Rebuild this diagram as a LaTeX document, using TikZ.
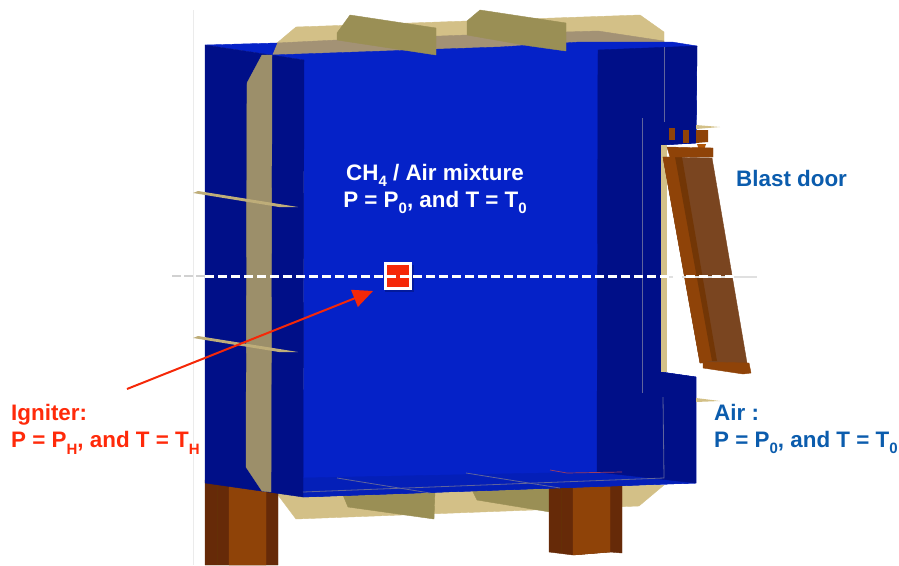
\documentclass[tikz,border=0pt]{standalone}
\usepackage{xcolor}
\usepackage{fontspec}
\setmainfont{Liberation Sans}
\usetikzlibrary{arrows.meta,positioning}
\definecolor{chamberdark}{HTML}{000F88}
\definecolor{chamberblue}{HTML}{0522C8}
\definecolor{chamberfloor}{HTML}{041FB8}
\definecolor{platetan}{HTML}{D3C087}
\definecolor{platetaupe}{HTML}{A39275}
\definecolor{stripolive}{HTML}{9C8F6A}
\definecolor{flapolive}{HTML}{9A8F55}
\definecolor{steelorange}{HTML}{8F4308}
\definecolor{steeldark}{HTML}{662A08}
\definecolor{doorbrown}{HTML}{7A4520}
\definecolor{igniterred}{HTML}{F52808}
\definecolor{labelred}{HTML}{FF2A0A}
\definecolor{labelblue}{HTML}{0B5CAD}
\definecolor{seamgray}{HTML}{5F649C}
\newcommand{\lowsub}[1]{\raisebox{-0.28em}{\fontsize{15}{15}\selectfont #1}}

\begin{document}
\begin{tikzpicture}[
    x=1pt,
    y=-1pt,
    solid/.style={fill=#1, draw=#1, line width=0.4pt},
    seam/.style={draw=seamgray, line width=0.8pt},
    labeltext/.style={anchor=west, align=left, inner sep=0pt, font=\fontsize{22.4}{27.5}\selectfont\bfseries},
    pointer/.style={-{Triangle[length=20pt,width=18pt]}, line width=2pt, draw=igniterred},
    igniterbox/.style={rectangle, draw=white, fill=igniterred, line width=3pt, minimum size=25pt, inner sep=0pt}
  ]
    \useasboundingbox (0,0) rectangle (899,565);
    \draw[black!8, line width=0.6pt] (193,10) -- (193,565);

    % 1. Back plates
    \filldraw[solid=platetan] (277,43) -- (296,27) -- (640,15) -- (664,32) -- (664,45) -- cycle;
    \filldraw[solid=platetaupe] (272,45) -- (277,43) -- (337,40) -- (467,35) -- (598,31) -- (664,41) -- (664,46) -- (272,58) -- cycle;
    \filldraw[solid=platetan] (278,490) -- (278,495) -- (296,519) -- (639,506) -- (664,485) -- cycle;
    \filldraw[solid=flapolive] (343,495) -- (348,507) -- (434,519) -- (435,490) -- cycle;
    \filldraw[solid=flapolive] (472,490) -- (477,500) -- (550,512) -- (550,488) -- cycle;

    % 2. Columns
    \filldraw[solid=steeldark] (205,480) -- (278,490) -- (278,565) -- (205,565) -- cycle;
    \filldraw[solid=steelorange] (229,480) -- (266,490) -- (266,565) -- (229,565) -- cycle;
    \draw[steelorange!70!black, line width=0.5pt] (217,483) -- (217,565);
    \filldraw[solid=steeldark] (549,485) -- (622,485) -- (622,553) -- (610,552) -- (573,555) -- (549,552) -- cycle;
    \filldraw[solid=steelorange] (573,485) -- (610,485) -- (610,552) -- (573,555) -- cycle;
    \draw[steelorange!70!black, line width=0.5pt] (561,487) -- (561,553);

    % 3. Chamber faces
    \filldraw[solid=chamberblue] (205,45) -- (277,43) -- (272,55) -- (500,47) -- (580,42) -- (672,42) -- (697,46) -- (696,143) -- (661,145) -- (661,372) -- (696,377) -- (696,483) -- (303,497) -- (304,60) -- cycle;
    \filldraw[solid=chamberfloor] (303,478) -- (597,472) -- (696,483) -- (303,497) -- cycle;
    \filldraw[solid=chamberdark] (205,45) -- (304,60) -- (303,497) -- (205,483) -- cycle;
    \filldraw[solid=chamberdark] (598,50) -- (697,46) -- (696,143) -- (661,145) -- (661,372) -- (696,377) -- (696,483) -- (597,472) -- cycle;

    % 4. Blast door
    \fill[platetan] (661,145) rectangle (667,372);
    \fill[platetan] (696,125) -- (720,127) -- (696,129) -- cycle;
    \fill[steelorange] (696,130) -- (708,130) -- (708,142) -- (696,143) -- cycle;
    \fill[steelorange!70!orange] (697,144) -- (706,144) -- (704,150) -- (699,150) -- cycle;
    \filldraw[solid=doorbrown] (663,157) -- (712,158) -- (747,363) -- (700,363) -- cycle;
    \filldraw[solid=steelorange] (663,157) -- (677,157) -- (713,360) -- (700,363) -- cycle;
    \fill[steelorange!80!black] (675,157) -- (682,157) -- (717,361) -- (712,361) -- cycle;
    \filldraw[solid=steelorange] (667,147) -- (713,148) -- (713,157) -- (670,157) -- cycle;
    \filldraw[solid=steelorange] (703,362) -- (749,363) -- (751,373) -- (743,374) -- (703,368) -- cycle;
    \fill[steelorange] (669,128) rectangle (675,140);
    \fill[steelorange] (683,130) rectangle (689,143);

    % 5. Strip and flaps in front
    \filldraw[solid=stripolive] (262,55) -- (272,55) -- (271,492) -- (262,491) -- (246,467) -- (247,83) -- cycle;
    \filldraw[solid=flapolive] (337,33) -- (350,15) -- (436,28) -- (436,55) -- (403,50) -- (337,40) -- cycle;
    \filldraw[solid=flapolive] (467,21) -- (480,10) -- (566,23) -- (566,51) -- (530,46) -- (467,35) -- cycle;
    \foreach \y in {0,145} {
      \fill[platetan!90!black] (193,193+\y) -- (198,191+\y) -- (298,207+\y) -- (279,207+\y) -- cycle;
    }
    \fill[platetan] (696,398) -- (720,401) -- (696,402) -- cycle;

    % 6. Seams
    \draw[seam] (664,47) -- (664,122);
    \draw[seam] (642,118) -- (642,393);
    \draw[seam] (663,397) -- (664,478) -- (303,492);
    \draw[seam] (337,478) -- (430,493);
    \draw[seam] (466,473) -- (560,488);
    \draw[seamgray!60!red, line width=0.7pt] (550,470) -- (567,473) -- (622,472);

    % 7. Centre line and igniter
    \draw[black!18, line width=2.5pt, dash pattern=on 9pt off 3pt] (172,276) -- (205,276);
    \draw[black!12, line width=2.5pt] (667,277) -- (757,277);
    \fill[black, opacity=0.22] (385,265) rectangle (414,292);
    \node[igniterbox] (igniter) at (398,275.5) {};
    \draw[white, line width=3pt, dash pattern=on 9pt off 4pt] (205,276) -- (735,276);

    \coordinate (pointertail) at (127,389);
    \coordinate (pointertip) at (373,291);
    \draw[pointer] (pointertail) -- (pointertip);

    % 8. Labels
    \node[labeltext, anchor=center, align=center, text=white] (L-mixture) at (435,189)
      {CH\lowsub{4} / Air mixture \\ P = P\lowsub{0}, and T = T\lowsub{0}};
    \node[labeltext, text=labelred] (L-igniter) at (11,429)
      {Igniter: \\ P = P\lowsub{H}, and T = T\lowsub{H}};
    \node[labeltext, text=labelblue] (L-door) at (736,178) {Blast door};
    \node[labeltext, text=labelblue] (L-air) at (714,429)
      {Air : \\ P = P\lowsub{0}, and T = T\lowsub{0}};

  \end{tikzpicture}
\end{document}
